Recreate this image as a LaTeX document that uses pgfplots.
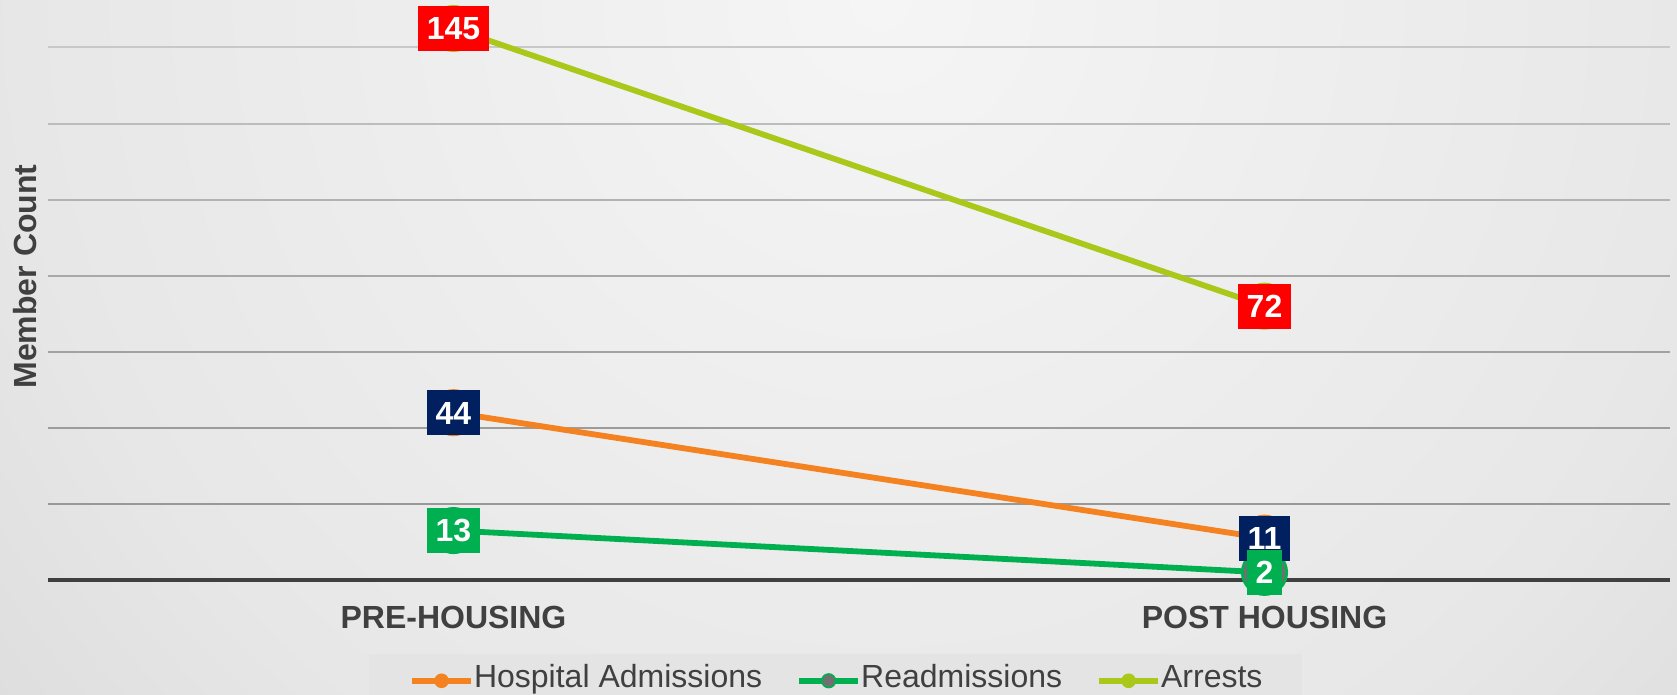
\documentclass[border=0pt]{standalone}
\usepackage{fontspec}
\setmainfont{Liberation Sans}
\usepackage{pgfplots}
\pgfplotsset{compat=1.18}
\definecolor{orangeC}{RGB}{245,130,32}
\definecolor{greenC}{RGB}{0,176,80}
\definecolor{limeC}{RGB}{169,200,26}
\definecolor{redL}{RGB}{255,0,0}
\definecolor{navyL}{RGB}{0,32,96}
\definecolor{greenL}{RGB}{0,176,80}
\definecolor{grayM}{RGB}{112,112,112}
\definecolor{txt}{RGB}{64,64,64}
\definecolor{legbg}{RGB}{228,228,228}
\definecolor{bg0}{RGB}{245,245,245}
\definecolor{bg1}{RGB}{231,231,231}
\definecolor{bg2}{RGB}{216,216,216}
\definecolor{bg3}{RGB}{208,208,208}
\definecolor{bg4}{RGB}{196,196,196}
\definecolor{bg5}{RGB}{190,190,190}
\definecolor{gl1}{RGB}{200,200,200}
\definecolor{gl2}{RGB}{188,188,188}
\definecolor{gl3}{RGB}{178,178,178}
\definecolor{gl4}{RGB}{168,168,168}
\definecolor{gl5}{RGB}{162,162,162}
\definecolor{gl6}{RGB}{156,156,156}
\definecolor{gl7}{RGB}{152,152,152}
\pgfdeclareradialshading{bgshade}{\pgfpoint{0bp}{0bp}}{color(0bp)=(bg0); color(19.2bp)=(bg1); color(29bp)=(bg2); color(34.8bp)=(bg3); color(42.4bp)=(bg4); color(50bp)=(bg5)}
\newcommand\fs{\fontsize{16pt}{19pt}\selectfont}
\tikzset{lbl/.style={anchor=center, text=white, font=\fs\bfseries, inner xsep=4.5pt, inner ysep=5.5pt, text height=11.4pt, text depth=0pt}}
\begin{document}
\begin{tikzpicture}
\useasboundingbox (0,0) rectangle (838.5pt,347.5pt);
\begin{scope}
\clip (0,0) rectangle (838.5pt,347.5pt);
\shade[shading=bgshade] (440pt,347.5pt) circle (560bp);
\end{scope}
\begin{axis}[
  at={(24pt,57.5pt)}, anchor=south west,
  scale only axis, width=811pt, height=266.25pt,
  xmin=-0.5, xmax=1.5, ymin=0, ymax=140,
  clip=false,
  /pgf/number format/assume math mode=true,
  axis x line*=bottom, axis y line*=left,
  y axis line style={draw=none},
  x axis line style={draw=txt, line width=2.2pt, -},
  ytick=\empty,
  xtick={0,1}, xticklabels={PRE-HOUSING, POST HOUSING},
  major tick length=0pt, xtick style={draw=none},
  xticklabel style={font=\fs\bfseries, text=txt, anchor=center, yshift=-18.5pt, inner sep=0pt, text height=11.5pt, text depth=0pt},
  ylabel={Member Count},
  every axis y label/.style={at={(axis description cs:-0.0142,0.570)}, rotate=90, anchor=center, font=\fs\bfseries, text=txt, inner sep=0pt, text height=11.7pt, text depth=0pt},
  legend columns=3,
  legend style={at={(axis description cs:0.1977,-0.138)}, anchor=north west, fill=legbg, draw=none, inner xsep=20pt, inner ysep=4.2pt, font=\fs, text=txt, nodes={inner sep=0pt, text height=12.7pt, text depth=5.8pt}, /tikz/every even column/.append style={column sep=17pt}},
]
\draw[line width=1pt, gl1] (axis cs:-0.5,140) -- (axis cs:1.5,140);
\draw[line width=1pt, gl2] (axis cs:-0.5,120) -- (axis cs:1.5,120);
\draw[line width=1pt, gl3] (axis cs:-0.5,100) -- (axis cs:1.5,100);
\draw[line width=1pt, gl4] (axis cs:-0.5,80) -- (axis cs:1.5,80);
\draw[line width=1pt, gl5] (axis cs:-0.5,60) -- (axis cs:1.5,60);
\draw[line width=1pt, gl6] (axis cs:-0.5,40) -- (axis cs:1.5,40);
\draw[line width=1pt, gl7] (axis cs:-0.5,20) -- (axis cs:1.5,20);

\addplot[orangeC, line width=2.9pt, mark=*, mark size=11.1pt, mark options={fill=orangeC, draw=orangeC, line width=1.35pt},
  legend image code/.code={\draw[orangeC, line width=3pt] (0pt,0pt) -- (29.5pt,0pt); \draw[orangeC] plot[mark=*, mark size=3.4pt, mark options={fill=orangeC, line width=0.5pt}] coordinates {(14.75pt,0pt)};}]
  coordinates {(0,44) (1,11)};
\addlegendentry{Hospital Admissions}
\addplot[greenC, line width=2.9pt, mark=*, mark size=11.1pt, mark options={fill=grayM, draw=greenC, line width=1.35pt},
  legend image code/.code={\draw[greenC, line width=3pt] (0pt,0pt) -- (29.5pt,0pt); \draw[greenC] plot[mark=*, mark size=3.4pt, mark options={fill=grayM, draw=greenC, line width=0.8pt}] coordinates {(14.75pt,0pt)};}]
  coordinates {(0,13) (1,2)};
\addlegendentry{Readmissions}
\addplot[limeC, line width=2.9pt, mark=*, mark size=11.1pt, mark options={fill=limeC, draw=limeC, line width=1.35pt},
  legend image code/.code={\draw[limeC, line width=3pt] (0pt,0pt) -- (29.5pt,0pt); \draw[limeC] plot[mark=*, mark size=3.4pt, mark options={fill=limeC, line width=0.5pt}] coordinates {(14.75pt,0pt)};}]
  coordinates {(0,145) (1,72)};
\addlegendentry{Arrests}

\addplot[draw=none, mark=none, forget plot, point meta=y, nodes near coords, nodes near coords style={lbl, fill=navyL}] coordinates {(0,44) (1,11)};
\addplot[draw=none, mark=none, forget plot, point meta=y, nodes near coords, nodes near coords style={lbl, fill=greenL}] coordinates {(0,13) (1,2)};
\addplot[draw=none, mark=none, forget plot, point meta=y, nodes near coords, nodes near coords style={lbl, fill=redL}] coordinates {(0,145) (1,72)};
\end{axis}
\end{tikzpicture}
\end{document}
